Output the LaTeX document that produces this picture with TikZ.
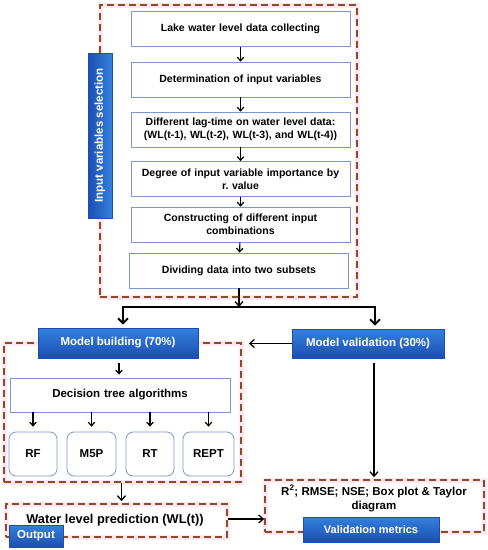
\documentclass[tikz,border=0pt]{standalone}
\usepackage{fontspec}
\setmainfont{Liberation Sans}
\usetikzlibrary{arrows.meta}
\definecolor{dashc}{RGB}{140,75,38}
\definecolor{halo}{RGB}{255,232,242}
\definecolor{btop}{RGB}{52,128,222}
\definecolor{bbot}{RGB}{28,78,178}
\definecolor{bord}{RGB}{125,150,205}
\begin{document}
\begin{tikzpicture}[x=1pt,y=-1pt,
  stepbox/.style={draw=bord, line width=0.8pt, fill=white, minimum width=219pt, minimum height=35pt,
    align=center, text width=214pt, inner sep=0pt, font=\fontsize{10.5}{13}\selectfont\bfseries},
  algbox/.style={draw=bord, line width=0.8pt, fill=white, rounded corners=7pt, minimum height=44pt,
    inner sep=0pt, font=\fontsize{11.5}{13}\selectfont\bfseries},
  dbox/.style={draw=dashc, line width=1.7pt, dash pattern=on 7pt off 4pt, inner sep=0pt,
    preaction={draw=halo, line width=5pt, solid}},
  bluelab/.style={draw=bbot, line width=0.6pt, top color=btop, bottom color=bbot, text=white,
    inner sep=0pt, font=\fontsize{11.5}{13}\selectfont\bfseries},
  sarr/.style={-{Straight Barb[length=3.5pt,width=6.5pt,line width=1.2pt]}, line width=1.1pt, black},
  barr/.style={-{Straight Barb[length=5pt,width=10pt,line width=2pt]}, line width=2.4pt, black},
  marr/.style={-{Straight Barb[length=4.5pt,width=8pt,line width=1.3pt]}, line width=1.5pt, black}
]
\useasboundingbox (0,0) rectangle (488,550);

% input variables selection
\node[dbox, minimum width=257pt, minimum height=292pt] (sel) at (228.5,151) {};
\node[bluelab, rotate=90, minimum width=165pt, minimum height=24pt, left color=bbot, right color=btop] (insel) at (100,135.5) {Input variables selection};

\node[stepbox] (s1) at (240.5,29) {Lake water level data collecting};
\node[stepbox] (s2) at (240.5,79.5) {Determination of input variables};
\node[stepbox] (s3) at (240.5,129.5) {Different lag-time on water level data:\\(WL(t-1), WL(t-2), WL(t-3), and WL(t-4))};
\node[stepbox] (s4) at (240.5,179) {Degree of input variable importance by\\r.\ value};
\node[stepbox] (s5) at (240.5,224.5) {Constructing of different input\\combinations};
\node[stepbox] (s6) at (239,270.5) {Dividing data into two subsets};

\draw[sarr] (s1) -- (s2);
\draw[sarr] (s2) -- (s3);
\draw[sarr] (s3) -- (s4);
\draw[sarr] (s4) -- (s5);
\draw[sarr] (s5) -- (s6);

% split
\coordinate (split) at (239,307);
\node[bluelab, minimum width=160pt, minimum height=30pt] (mb) at (118,343) {Model building (70\%)};
\node[bluelab, minimum width=152pt, minimum height=29pt] (mv) at (368,343.5) {Model validation (30\%)};
\draw[marr] (s6.south) -- (split);
\draw[barr, shorten >=3pt] (split) -| ([xshift=5pt]mb.north);
\draw[barr, shorten >=3pt] (split) -| ([xshift=7pt]mv.north);

% model building box
\node[dbox, minimum width=237pt, minimum height=139pt] (build) at (122.5,412.5) {};
\node[bluelab, minimum width=160pt, minimum height=30pt] at (118,343) {Model building (70\%)};
\draw[marr, shorten >=7pt] (mv.west) -- (mv.west -| build.east);

\node[stepbox, minimum width=220pt, minimum height=34pt, font=\fontsize{11.5}{13}\selectfont\bfseries] (dt) at (120,395) {Decision tree algorithms};
\draw[sarr, shorten <=5pt, shorten >=3pt] ([xshift=1pt]mb.south) -- ([xshift=1pt]mb.south |- dt.north);

\node[algbox, minimum width=48pt] (rf) at (33,454) {RF};
\node[algbox, minimum width=49pt] (m5p) at (91.5,454) {M5P};
\node[algbox, minimum width=48pt] (rt) at (150,454) {RT};
\node[algbox, minimum width=51pt] (rept) at (208.5,454) {REPT};
\foreach \n in {rf,m5p,rt,rept}{
  \draw[sarr, shorten >=5pt] (dt.south -| \n.north) -- (\n.north);
}

% prediction
\node[dbox, minimum width=221pt, minimum height=33pt] (pred) at (116.5,520.5) {};
\node[font=\fontsize{12.8}{14}\selectfont\bfseries] (predt) at (115,520) {Water level prediction (WL(t))};
\node[bluelab, minimum width=54pt, minimum height=22pt] (out) at (36,536) {Output};
\draw[marr, shorten >=2pt] ([xshift=-1pt]build.south) -- ([xshift=-1pt]build.south |- pred.north);

% metrics
\node[dbox, minimum width=219pt, minimum height=52pt] (met) at (374.5,506) {};
\node[align=center, font=\fontsize{11.5}{14}\selectfont\bfseries] (mett) at (374,498.5) {R\textsuperscript{2}; RMSE; NSE; Box plot \& Taylor\\diagram};
\node[bluelab, minimum width=136pt, minimum height=25pt, font=\fontsize{11}{13}\selectfont\bfseries] (vm) at (371,529.5) {Validation metrics};
\draw[marr, shorten <=5pt, shorten >=2pt] ([xshift=6pt]mv.south) -- ([xshift=6pt]mv.south |- met.north);
\draw[marr] (pred.east |- 0,519) -- (met.west |- 0,519);
\end{tikzpicture}
\end{document}
